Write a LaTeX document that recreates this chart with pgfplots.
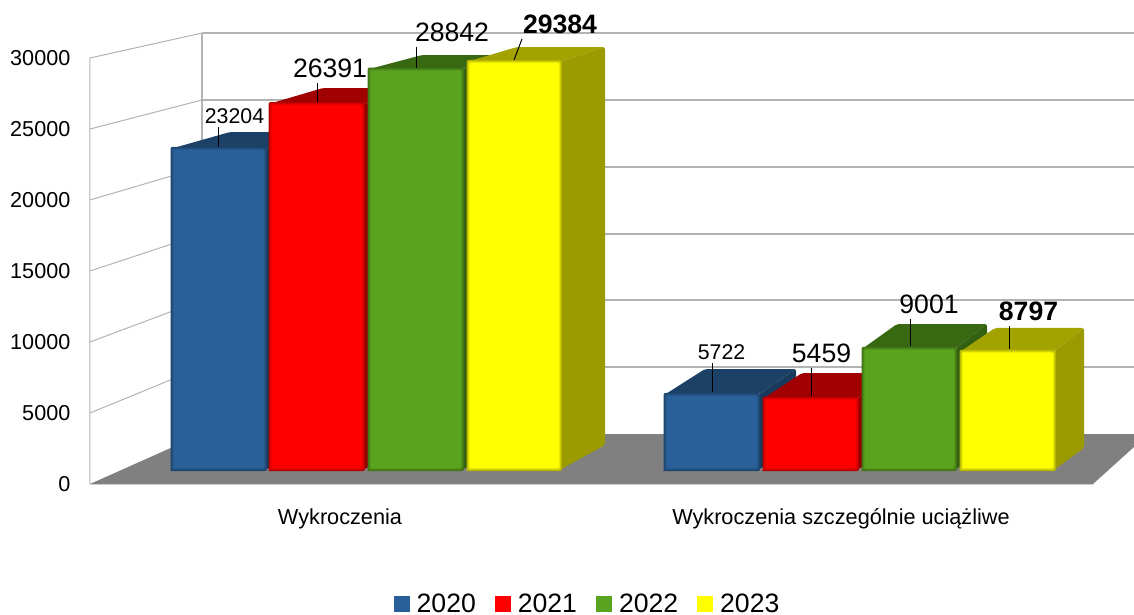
\documentclass[border=0pt]{standalone}
\usepackage{fontspec}
\setmainfont{Liberation Sans}
\usepackage{pgfplots}
\pgfplotsset{compat=1.18}

\definecolor{cblue}{HTML}{2A6099}
\definecolor{cred}{HTML}{FF0000}
\definecolor{cgreen}{HTML}{5AA31E}
\definecolor{cyellow}{HTML}{FFFF00}
\definecolor{tblue}{HTML}{1C4066}
\definecolor{tred}{HTML}{A00000}
\definecolor{tgreen}{HTML}{386812}
\definecolor{tyellow}{HTML}{A3A300}
\definecolor{sblue}{HTML}{193A5C}
\definecolor{sred}{HTML}{950000}
\definecolor{sgreen}{HTML}{336011}
\definecolor{syellow}{HTML}{9B9B00}
\definecolor{gridc}{HTML}{B3B3B3}

\newcommand{\fs}[1]{\fontsize{#1}{#1}\selectfont}
\pgfplotsset{
  barval/.style={forget plot, mark=none, y filter/.expression={634+0.991*(y>500 ? y-(#1) : y+(#1))}},
}
% fill colour, x inset, y inset, xl, xr, value
\newcommand{\frontlayer}[6]{%
  \pgfmathsetmacro{\xa}{#4+#2}\pgfmathsetmacro{\xb}{#5-#2}%
  \addplot[barval={#3}, draw=none, fill=#1, rounded corners=2pt] coordinates {(\xa,390) (\xa,#6) (\xb,#6) (\xb,390) (\xa,390)};
}
% colour, top colour, side colour, xl, xr, back xl, back xr, value, back value
\newcommand{\threedbar}[9]{%
  \addplot[barval=0, draw=none, fill=#2, rounded corners=2pt] coordinates {(#4,#8) (#6,#9) (#7,#9) (#5,#8) (#4,#8)};
  \addplot[barval=0, draw=none, fill=#3, rounded corners=2pt] coordinates {(#5,390) (#5,#8) (#7,#9) (#7,\backfloor) (#5,390)};
  \frontlayer{#1!70!black}{-1.5}{-107}{#4}{#5}{#8}
  \frontlayer{#1!80!black}{-0.5}{-36}{#4}{#5}{#8}
  \frontlayer{#1!91!black}{0.5}{36}{#4}{#5}{#8}
  \frontlayer{#1}{1.5}{107}{#4}{#5}{#8}
}

\begin{document}
\begin{tikzpicture}
\useasboundingbox (-90pt,-131pt) rectangle (1044pt,484pt);
\begin{axis}[
  scale only axis,
  width=1044pt,
  height=426pt,
  xmin=90, xmax=1134,
  ymin=0, ymax=30000,
  clip=false,
  axis line style={draw=none},
  tick style={draw=none},
  ytick={0,5000,10000,15000,20000,25000,30000},
  xtick={340,841},
  xticklabels={Wykroczenia,Wykroczenia szczególnie uciążliwe},
  scaled y ticks=false,
  /pgf/number format/fixed,
  /pgf/number format/assume math mode=true,
  /pgf/number format/1000 sep={},
  y tick label style={font=\fs{21.6}, anchor=east, inner sep=0pt, xshift=-19.5pt},
  x tick label style={font=\fs{21.7}, anchor=center, yshift=-35pt},
  legend columns=-1,
  legend style={
    at={(0.4756,-0.2827)}, anchor=center, draw=none, fill=none,
    font=\fs{26.6}, inner sep=0pt,
    nodes={inner sep=0pt},
    /tikz/column 1/.style={column sep=7pt},
    /tikz/column 2/.style={column sep=19pt},
    /tikz/column 3/.style={column sep=7pt},
    /tikz/column 4/.style={column sep=19pt},
    /tikz/column 5/.style={column sep=7pt},
    /tikz/column 6/.style={column sep=19pt},
    /tikz/column 7/.style={column sep=7pt},
  },
  legend image code/.code={\fill[#1, draw=none] (0pt,-8pt) rectangle (16pt,8pt);},
]
% back wall
\pgfplotsset{wall/.style={forget plot, mark=none, draw=gridc, line width=1.3pt}}
\addplot[wall] coordinates {(202,31759) (1134,31759)};
\addplot[wall] coordinates {(202,27041) (1134,27041)};
\addplot[wall] coordinates {(202,22323) (1134,22323)};
\addplot[wall] coordinates {(202,17605) (1134,17605)};
\addplot[wall] coordinates {(202,12957) (1134,12957)};
\addplot[wall] coordinates {(202,8239) (1134,8239)};
\addplot[wall] coordinates {(202,3521) (202,31759)};
% left wall
\pgfplotsset{lwall/.style={forget plot, mark=none, draw=gridc, line width=1pt}}
\addplot[lwall] coordinates {(90,0) (90,30000) (202,31759)};
\addplot[lwall] coordinates {(90,25000) (202,27041)};
\addplot[lwall] coordinates {(90,20000) (202,22323)};
\addplot[lwall] coordinates {(90,15000) (202,17605)};
\addplot[lwall] coordinates {(90,10000) (202,12957)};
\addplot[lwall] coordinates {(90,5000) (202,8239)};
% floor
\addplot[forget plot, mark=none, draw=none, fill=black!50] coordinates {(90,0) (1093,0) (1134,2606) (1134,3521) (202,3521) (90,0)};
\addplot[forget plot, mark=none, draw=black!20, line width=1pt] coordinates {(90,-70) (1093,-70)};

% first group
\def\backfloor{2132}
\threedbar{cblue}{tblue}{sblue}{172}{265.5}{230}{320}{23204}{24373}
\threedbar{cred}{tred}{sred}{270}{363.5}{323}{415}{26391}{27500}
\threedbar{cgreen}{tgreen}{sgreen}{369}{462.5}{422}{510}{28842}{29844}
\threedbar{cyellow}{tyellow}{syellow}{468}{560.5}{517}{605}{29384}{30413}
% second group
\def\backfloor{1919}
\threedbar{cblue}{tblue}{sblue}{665}{758.5}{705}{796}{5722}{7532}
\threedbar{cred}{tred}{sred}{764}{857.5}{802}{895}{5459}{7248}
\threedbar{cgreen}{tgreen}{sgreen}{863}{955.5}{897}{987}{9001}{10730}
\threedbar{cyellow}{tyellow}{syellow}{961}{1054.5}{995}{1084}{8797}{10446}

% leader lines
\pgfplotsset{lead/.style={forget plot, mark=none, draw=black, line width=1pt}}
\addplot[lead] coordinates {(218,25140) (218,23732)};
\addplot[lead] coordinates {(317,28238) (317,26900)};
\addplot[lead] coordinates {(416,30774) (416,29295)};
\addplot[lead] coordinates {(522,31337) (514,29858)};
\addplot[lead] coordinates {(712,8521) (712,6479)};
\addplot[lead] coordinates {(811,8169) (811,6197)};
\addplot[lead] coordinates {(910,11619) (910,9718)};
\addplot[lead] coordinates {(1009,11126) (1009,9507)};

% value labels
\node[inner sep=0pt, font=\fs{21.3}] at (axis cs:234.5,25915) {23204};
\node[inner sep=0pt, font=\fs{26.6}] at (axis cs:330,29295) {26391};
\node[inner sep=0pt, font=\fs{26.6}] at (axis cs:452,31830) {28842};
\node[inner sep=0pt, font=\fs{26.6}\bfseries] at (axis cs:560,32393) {29384};
\node[inner sep=0pt, font=\fs{21.3}] at (axis cs:721.5,9295) {5722};
\node[inner sep=0pt, font=\fs{26.6}] at (axis cs:821.5,9225) {5459};
\node[inner sep=0pt, font=\fs{26.6}] at (axis cs:929,12676) {9001};
\node[inner sep=0pt, font=\fs{26.6}\bfseries] at (axis cs:1028.5,12147) {8797};

% legend
\addlegendimage{fill=cblue}
\addlegendentry{2020}
\addlegendimage{fill=cred}
\addlegendentry{2021}
\addlegendimage{fill=cgreen}
\addlegendentry{2022}
\addlegendimage{fill=cyellow}
\addlegendentry{2023}
\end{axis}
\end{tikzpicture}
\end{document}
